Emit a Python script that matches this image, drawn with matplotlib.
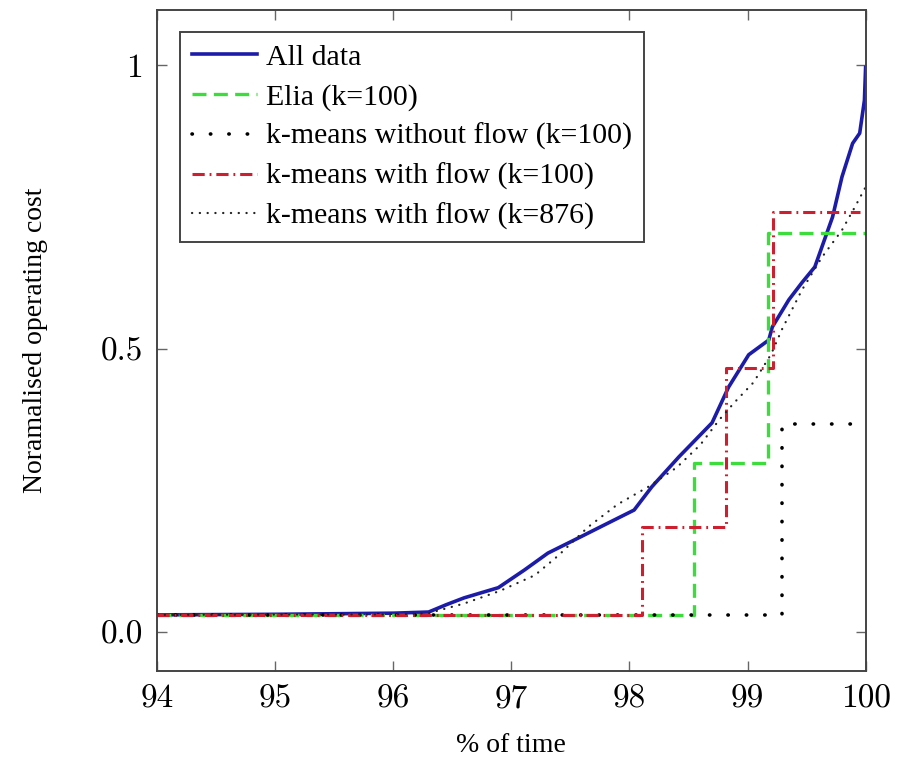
import matplotlib
matplotlib.use("Agg")
import matplotlib.pyplot as plt

plt.rcParams["font.family"] = ["Liberation Serif", "DejaVu Serif"]

# Duration curve of the operating cost (sorted, normalised)
all_x = [94.0, 95.0, 96.0, 96.3, 96.45, 96.6, 96.89, 97.11, 97.31, 97.59, 97.8,
         98.04, 98.19, 98.42, 98.7, 98.84, 99.01, 99.18, 99.21, 99.35, 99.46,
         99.57, 99.72, 99.80, 99.89, 99.95, 99.99, 100.0]
all_y = [0.030, 0.031, 0.033, 0.035, 0.048, 0.060, 0.078, 0.109, 0.139, 0.168,
         0.190, 0.215, 0.256, 0.309, 0.369, 0.432, 0.489, 0.515, 0.538, 0.586,
         0.616, 0.644, 0.732, 0.803, 0.862, 0.880, 0.938, 0.996]

# Representative-day approximations (step curves)
elia_x = [94.0, 98.55, 99.17, 100.0]
elia_y = [0.03, 0.298, 0.704, 0.704]

km_noflow_x = [94.0, 99.29, 100.0]
km_noflow_y = [0.03, 0.367, 0.367]

km_flow_x = [94.0, 98.11, 98.82, 99.22, 99.95]
km_flow_y = [0.03, 0.185, 0.465, 0.741, 0.741]

km_flow876_x = [94.0, 96.0, 96.3, 96.6, 96.9, 97.2, 97.4, 97.65, 97.9, 98.16,
                98.4, 98.6, 98.76, 98.89, 99.05, 99.2, 99.29, 99.46, 99.63,
                99.8, 99.91, 100.0]
km_flow876_y = [0.03, 0.031, 0.033, 0.05, 0.072, 0.10, 0.135, 0.185, 0.225,
                0.256, 0.29, 0.33, 0.374, 0.405, 0.44, 0.49, 0.533, 0.603,
                0.661, 0.709, 0.75, 0.785]

x_ticks = [94, 95, 96, 97, 98, 99, 100]
y_ticks = [0.0, 0.5, 1.0]
y_ticklabels = ["0.0", "0.5", "1"]

fig = plt.figure(figsize=(8.97, 7.63), dpi=100)
ax = fig.add_axes([0.175, 0.1206, 0.79, 0.866])

ax.plot(all_x, all_y, color="#1c1ca8", lw=2.6, label="All data")
ax.plot(elia_x, elia_y, color="#3ddc3d", lw=2.4, drawstyle="steps-post",
        dashes=(4.2, 2.2), label="Elia (k=100)")
ax.plot(km_noflow_x, km_noflow_y, color="black", lw=2.6, drawstyle="steps-post",
        linestyle=(0, (0.1, 5.0)), dash_capstyle="round",
        label="k-means without flow (k=100)")
ax.plot(km_flow_x, km_flow_y, color="#cc2030", lw=2.2, drawstyle="steps-post",
        linestyle=(0, (4.0, 1.6, 0.6, 1.6)),
        label="k-means with flow (k=100)")
ax.plot(km_flow876_x, km_flow876_y, color="#222222", lw=1.6,
        linestyle=(0, (0.1, 3.4)), dash_capstyle="round",
        label="k-means with flow (k=876)")

ax.set_xlim(94, 100)
ax.set_ylim(-0.069, 1.097)
ax.set_xticks(x_ticks)
ax.set_yticks(y_ticks)
ax.set_yticklabels(y_ticklabels)
ax.tick_params(direction="in", length=7, width=1.0, color="#666666",
               labelsize=24, top=True, right=True, pad=10)
for lbl in ax.get_xticklabels() + ax.get_yticklabels():
    lbl.set_fontfamily("cmr10")
for sp in ax.spines.values():
    sp.set_color("#444444")
    sp.set_linewidth(1.4)

ax.set_xlabel("% of time", fontsize=20, labelpad=14)
ax.set_ylabel("Noramalised operating cost", fontsize=20, labelpad=38)

leg = ax.legend(loc="upper left", bbox_to_anchor=(0.032, 0.967),
                borderaxespad=0, fontsize=21.5, handlelength=2.2,
                handletextpad=0.3, labelspacing=0.42, borderpad=0.4,
                fancybox=False, framealpha=1.0)
leg.get_frame().set_edgecolor("#444444")
leg.get_frame().set_linewidth(1.4)

fig.savefig("out.png", dpi=100, facecolor="white")
